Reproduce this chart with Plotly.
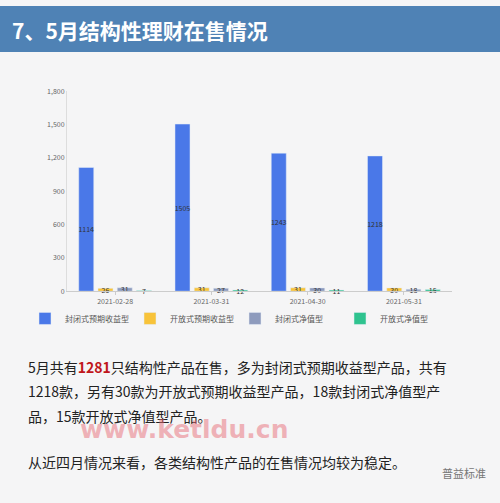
import plotly.graph_objects as go

# data
dates = ["2021-02-28", "2021-03-31", "2021-04-30", "2021-05-31"]
closed_expected = [1114, 1505, 1243, 1218]
open_expected = [26, 31, 31, 30]
closed_nav = [31, 27, 30, 18]
open_nav = [7, 12, 11, 15]
series_names = ["封闭式预期收益型", "开放式预期收益型", "封闭式净值型", "开放式净值型"]
series_colors = ["#4a78e8", "#f8c33a", "#8e9bbd", "#2fc38f"]
y_ticks = [0, 300, 600, 900, 1200, 1500, 1800]

W, H = 500, 503
font = "Noto Sans CJK SC"

fig = go.Figure()
for name, vals, col in zip(series_names, [closed_expected, open_expected, closed_nav, open_nav], series_colors):
    fig.add_trace(go.Bar(
        x=dates, y=vals, name=name, marker_color=col,
        text=vals, textposition="inside", insidetextanchor="middle", textangle=0,
        textfont=dict(size=7, color="#333"), cliponaxis=False,
    ))

def py(y):  # pixel y from top -> paper
    return 1 - y / H

fig.update_layout(
    width=W, height=H, margin=dict(l=0, r=0, t=0, b=0),
    paper_bgcolor="#f5f5f6", plot_bgcolor="rgba(0,0,0,0)",
    font=dict(family=font),
    barmode="group", bargap=0.2, bargroupgap=0.22,
    uniformtext=dict(mode="show", minsize=7),
    xaxis=dict(type="category", domain=[67 / W, 452 / W], anchor="y",
               tickfont=dict(size=7, color="#666"),
               showline=True, linecolor="#ccc", ticks="outside", tickcolor="#ccc", ticklen=3),
    yaxis=dict(domain=[py(291), py(87)], range=[0, 1800], tickvals=y_ticks,
               tickformat=",", tickfont=dict(size=7, color="#666"),
               showgrid=False, showline=True, linecolor="#ddd", zeroline=False),
    legend=dict(orientation="h", x=0.47, xanchor="center", y=py(304), yanchor="top",
                font=dict(size=8, color="#555"), entrywidth=60, bgcolor="rgba(0,0,0,0)",
                itemwidth=30, tracegroupgap=0),
    showlegend=True,
)

# header bar
fig.add_shape(type="rect", xref="paper", yref="paper", x0=0, x1=1, y0=py(47), y1=1,
              fillcolor="#4f82b5", line_width=0, layer="below")
fig.add_annotation(text="<b>7、5月结构性理财在售情况</b>", xref="paper", yref="paper",
                   x=10 / W, y=py(24), xanchor="left", yanchor="middle", showarrow=False,
                   font=dict(size=21, color="white", family=font))

lines = [
    "5月共有<b><span style='color:#c0161b'>1281</span></b>只结构性产品在售，多为封闭式预期收益型产品，共有",
    "1218款，另有30款为开放式预期收益型产品，18款封闭式净值型产",
    "品，15款开放式净值型产品。",
]
for i, t in enumerate(lines):
    fig.add_annotation(text=t, xref="paper", yref="paper", x=26 / W, y=py(368 + 25 * i),
                       xanchor="left", yanchor="middle", showarrow=False,
                       font=dict(size=14, color="#222", family=font))
fig.add_annotation(text="从近四月情况来看，各类结构性产品的在售情况均较为稳定。", xref="paper", yref="paper",
                   x=26 / W, y=py(465), xanchor="left", yanchor="middle", showarrow=False,
                   font=dict(size=14, color="#222", family=font))
fig.add_annotation(text="<b>www.ketldu.cn</b>", xref="paper", yref="paper", x=78 / W, y=py(432),
                   xanchor="left", yanchor="middle", showarrow=False,
                   font=dict(size=25, color="rgba(232,110,120,0.5)", family="DejaVu Sans"))
fig.add_annotation(text="普益标准", xref="paper", yref="paper", x=488 / W, y=py(476),
                   xanchor="right", yanchor="middle", showarrow=False,
                   font=dict(size=11, color="#777", family=font))

fig.write_html("out.html", config={"displayModeBar": False},
               post_script="document.body.style.margin='0';")
